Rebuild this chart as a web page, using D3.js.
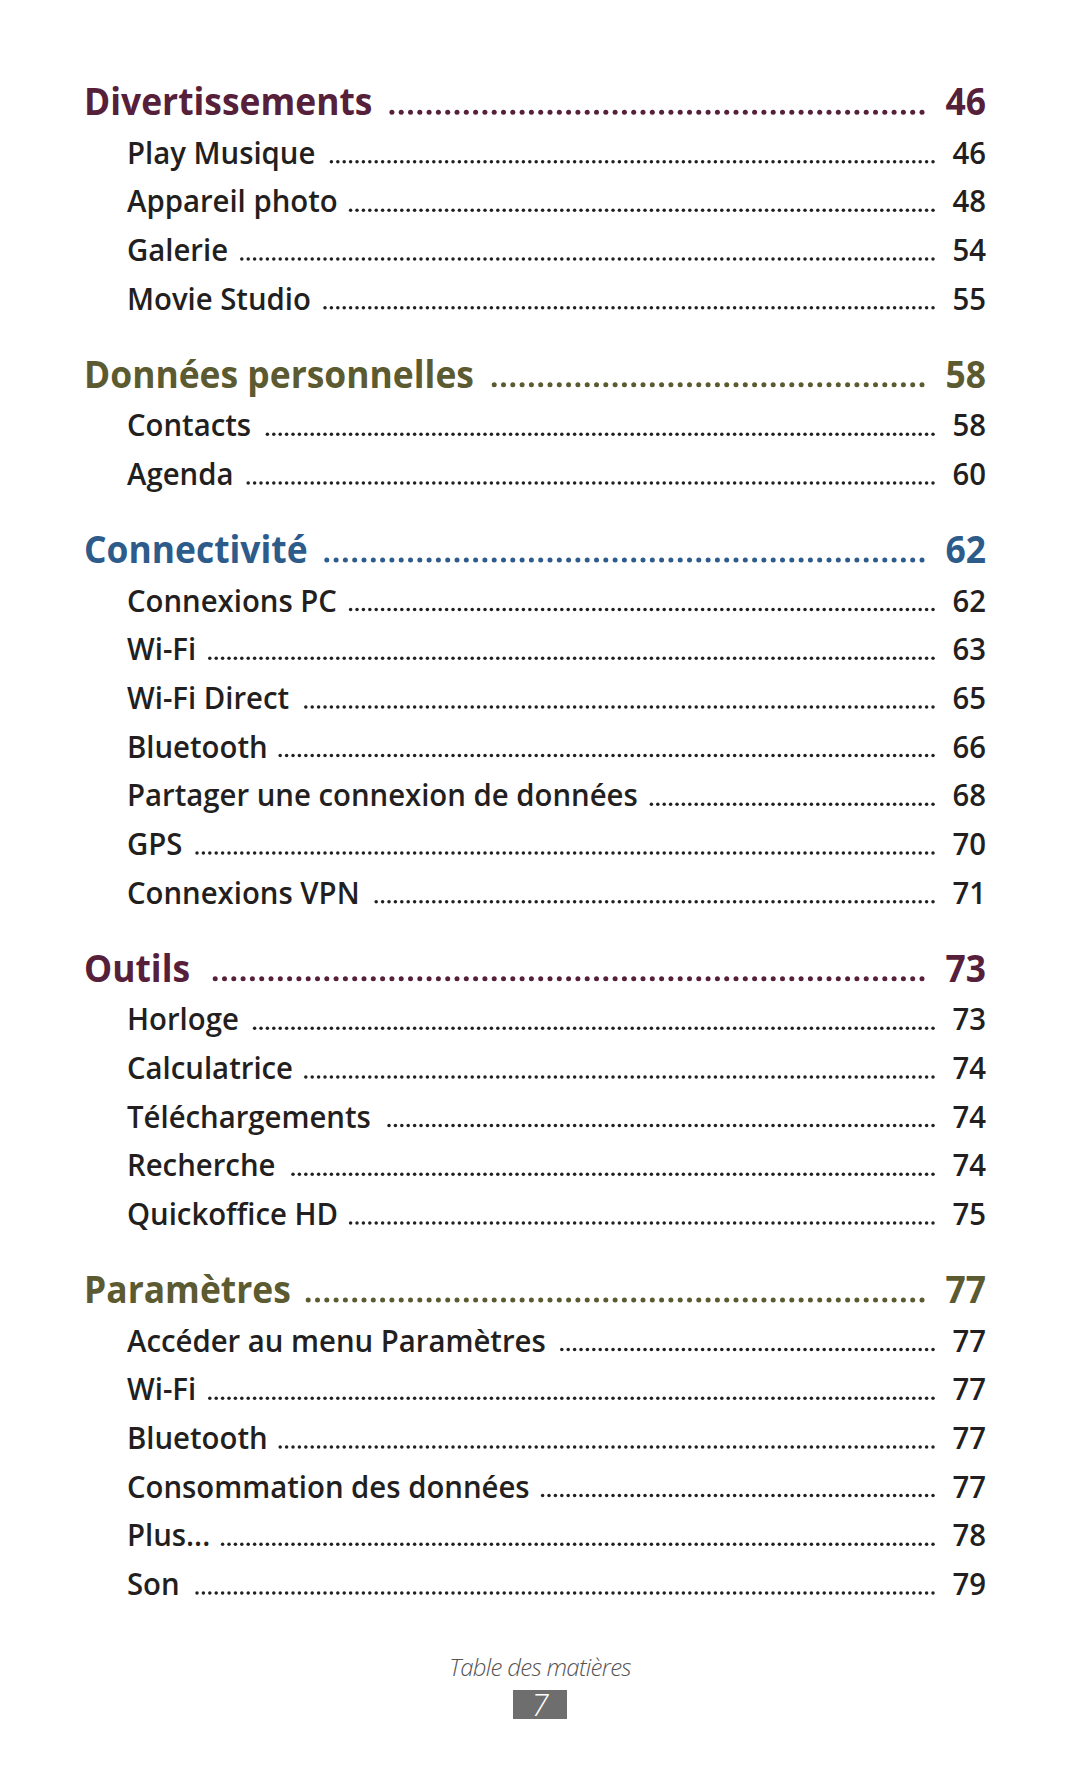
<!DOCTYPE html>
<html>
<head>
<meta charset="utf-8">
<script src="https://cdn.jsdelivr.net/npm/d3@7"></script>
<style>
  html, body { margin: 0; padding: 0; background: #ffffff; }
  svg { display: block; }
</style>
</head>
<body>
<div id="chart"></div>
<script>
// ---------- data ----------
const sectionTitles = ["Divertissements", "Données personnelles", "Connectivité", "Outils", "Paramètres"];
const sectionPages  = [46, 58, 62, 73, 77];

const itemsDivertissements = ["Play Musique", "Appareil photo", "Galerie", "Movie Studio"];
const pagesDivertissements = [46, 48, 54, 55];

const itemsDonnees = ["Contacts", "Agenda"];
const pagesDonnees = [58, 60];

const itemsConnectivite = ["Connexions PC", "Wi-Fi", "Wi-Fi Direct", "Bluetooth", "Partager une connexion de données", "GPS", "Connexions VPN"];
const pagesConnectivite = [62, 63, 65, 66, 68, 70, 71];

const itemsOutils = ["Horloge", "Calculatrice", "Téléchargements", "Recherche", "Quickoffice HD"];
const pagesOutils = [73, 74, 74, 74, 75];

const itemsParametres = ["Accéder au menu Paramètres", "Wi-Fi", "Bluetooth", "Consommation des données", "Plus...", "Son"];
const pagesParametres = [77, 77, 77, 77, 78, 79];

const footerLabel = "Table des matières";
const footerPage = "7";

// ---------- style ----------
const W = 1080, H = 1771;
const sectionColors = ["#56203a", "#5b5a30", "#2d5b8a", "#56203a", "#5b5a30"];
const itemColor = "#231f20";
const FONT = "'Open Sans', 'Noto Sans', sans-serif";

const groups = [
  [itemsDivertissements, pagesDivertissements],
  [itemsDonnees, pagesDonnees],
  [itemsConnectivite, pagesConnectivite],
  [itemsOutils, pagesOutils],
  [itemsParametres, pagesParametres]
];

// Build row list with vertical "units"
const rows = [];
let u = 0;
sectionTitles.forEach((t, i) => {
  if (i > 0) u += 1.6;
  rows.push({type: "header", text: t, page: sectionPages[i], color: sectionColors[i], u: u});
  groups[i][0].forEach((it, j) => {
    u += 1;
    rows.push({type: "item", text: it, page: groups[i][1][j], color: itemColor, u: u});
  });
});

const y = d3.scaleLinear().domain([0, u]).range([115, 1595]);

const svg = d3.select("#chart").append("svg")
  .attr("width", W).attr("height", H)
  .attr("viewBox", `0 0 ${W} ${H}`);

const cfg = {
  header: {x: 84, size: 37.5, weight: 700, dotR: 2.5, dotStep: 9.3, dotEnd: 922, gap: 17, refText: "Données personnelles", refW: 390},
  item:   {x: 127, size: 30.5, weight: 600, dotR: 1.75, dotStep: 6.4, dotEnd: 933, gap: 12, refText: "Partager une connexion de données", refW: 511}
};

// measure compression factors
Object.keys(cfg).forEach(k => {
  const c = cfg[k];
  const t = svg.append("text").attr("font-family", FONT).attr("font-size", c.size)
    .attr("font-weight", c.weight).text(c.refText);
  const w = t.node().getComputedTextLength();
  t.remove();
  c.sx = c.refW / w;
});

const pageRight = 986;

rows.forEach(r => {
  const c = cfg[r.type];
  const yy = y(r.u);
  const g = svg.append("g").attr("class", "row " + r.type);
  const label = g.append("text")
    .attr("transform", `translate(${c.x},${yy}) scale(${c.sx},1)`)
    .attr("font-family", FONT).attr("font-size", c.size).attr("font-weight", c.weight)
    .attr("fill", r.color).text(r.text);
  const tw = label.node().getComputedTextLength() * c.sx;
  g.append("text")
    .attr("transform", `translate(${pageRight},${yy}) scale(${c.sx},1)`)
    .attr("text-anchor", "end")
    .attr("font-family", FONT).attr("font-size", c.size).attr("font-weight", c.weight)
    .attr("fill", r.color).text(r.page);
  const start = c.x + tw + c.gap;
  const n = Math.floor((c.dotEnd - start) / c.dotStep) + 1;
  const dots = d3.range(n).map(i => c.dotEnd - i * c.dotStep);
  g.selectAll("circle").data(dots).join("circle")
    .attr("cx", d => d).attr("cy", yy - c.dotR - 0.3).attr("r", c.dotR)
    .attr("fill", r.color);
});

// footer
svg.append("text")
  .attr("x", 540).attr("y", 1676)
  .attr("text-anchor", "middle")
  .attr("font-family", FONT).attr("font-size", 24).attr("font-weight", 300)
  .attr("font-style", "italic").attr("fill", "#555555")
  .attr("letter-spacing", -0.7)
  .text(footerLabel);
svg.append("rect")
  .attr("x", 513).attr("y", 1690).attr("width", 54).attr("height", 29)
  .attr("fill", "#6e6e6e");
svg.append("text")
  .attr("x", 540).attr("y", 1716)
  .attr("text-anchor", "middle")
  .attr("font-family", FONT).attr("font-size", 31).attr("font-weight", 300)
  .attr("font-style", "italic").attr("fill", "#ffffff")
  .text(footerPage);
</script>
</body>
</html>
